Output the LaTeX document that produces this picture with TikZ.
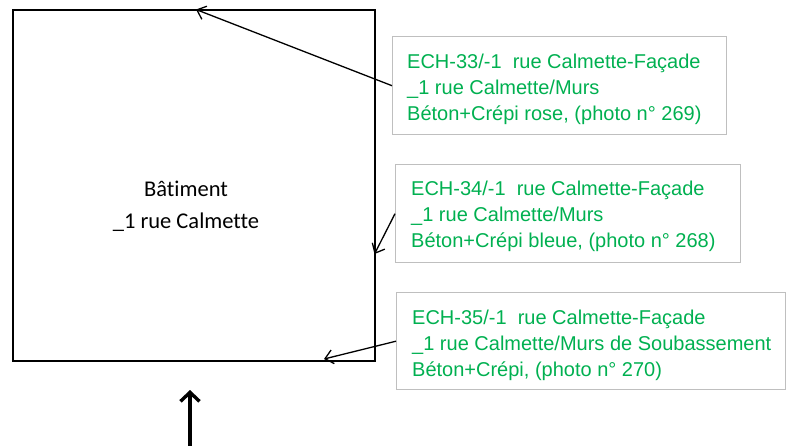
\documentclass[tikz,border=0pt]{standalone}
\usepackage{fontspec}
\setmainfont{Liberation Sans}
\newfontfamily\calib[Ligatures=NoCommon]{Carlito}
\usetikzlibrary{arrows.meta}
\definecolor{ogreen}{RGB}{0,176,80}
\definecolor{boxgray}{RGB}{191,191,191}
\begin{document}
\begin{tikzpicture}[x=1pt,y=-1pt,
  bldg/.style={draw=black, line width=1.8pt, inner sep=0pt, anchor=north west},
  notebox/.style={draw=boxgray, line width=1.4pt, inner sep=0pt, anchor=north west},
  notetext/.style={text=ogreen, font=\fontsize{20pt}{26pt}\selectfont, inner sep=0pt, anchor=base west},
  bldtext/.style={font=\calib\fontsize{22.5pt}{32pt}\selectfont, inner sep=0pt, anchor=base},
  thinarrow/.style={line width=1.3pt, -{Straight Barb[length=8pt,width=14pt]}},
  entryarrow/.style={line width=3.4pt, -{Straight Barb[length=9pt,width=19pt]}}
]
\useasboundingbox (0,0) rectangle (787,445);
% building
\node[bldg, minimum width=362pt, minimum height=351pt] (bat) at (12,9) {};
\node[bldtext] (bt1) at (186,196) {Bâtiment};
\node[bldtext] (bt2) at (186,228) {\_1 rue Calmette};
% note boxes
\node[notebox, minimum width=334pt, minimum height=98pt] (box1) at (392,36) {};
\node[notebox, minimum width=345pt, minimum height=98pt] (box2) at (395,164) {};
\node[notebox, minimum width=389pt, minimum height=97pt] (box3) at (396,292) {};
\node[notetext] (t1) at (407,68) {\vtop{\hbox{ECH-33/-1\ \ rue Calmette-Façade}\hbox{\_1 rue Calmette/Murs}\hbox{Béton+Crépi rose, (photo n° 269)}}};
\node[notetext] (t2) at (411,195) {\vtop{\hbox{ECH-34/-1\ \ rue Calmette-Façade}\hbox{\_1 rue Calmette/Murs}\hbox{Béton+Crépi bleue, (photo n° 268)}}};
\node[notetext] (t3) at (412,324) {\vtop{\hbox{ECH-35/-1\ \ rue Calmette-Façade}\hbox{\_1 rue Calmette/Murs de Soubassement}\hbox{Béton+Crépi, (photo n° 270)}}};
% arrow targets
\coordinate (tip1) at (196,9.5);
\coordinate (tip2) at (374.5,254);
\coordinate (tip3) at (324,359);
\coordinate (entry) at (190,446);
\coordinate (entrytip) at (190,390);
\draw[thinarrow] (box1.west) -- (tip1);
\draw[thinarrow] (box2.west) -- (tip2);
\draw[thinarrow] (box3.west) -- (tip3);
\draw[entryarrow] (entry) -- (entrytip);
\end{tikzpicture}
\end{document}
